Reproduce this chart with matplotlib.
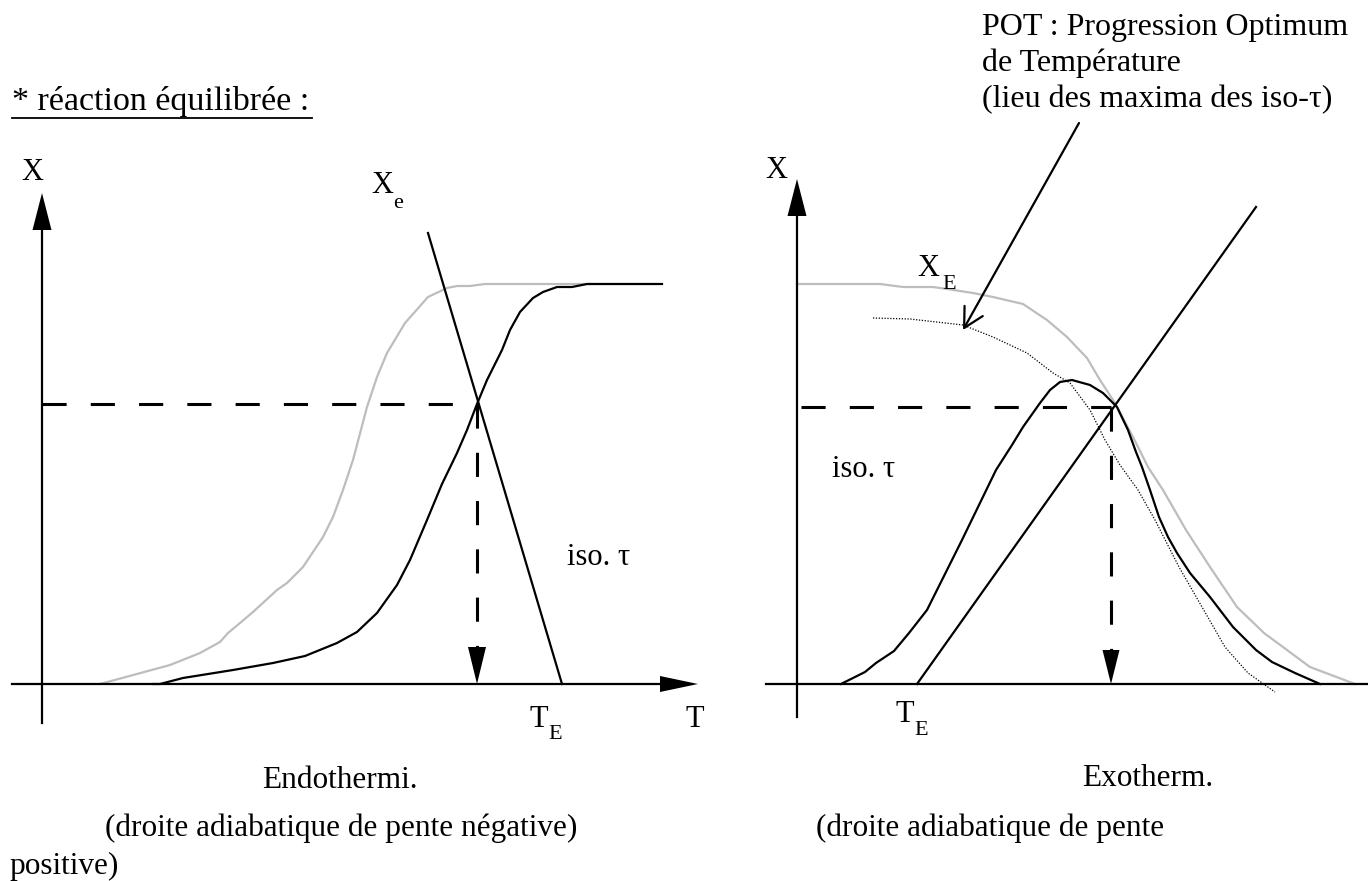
import matplotlib
matplotlib.use("Agg")
import matplotlib.pyplot as plt

plt.rcParams['font.family'] = ['Liberation Serif', 'DejaVu Serif']

# pixel space of the page (x to the right, y downwards)
W, H = 1368, 881

# --- left panel (endothermic) ---
left_eq_x = [100, 170, 200, 220, 228, 240, 253, 277, 287, 303, 323, 333, 343, 353,
             367, 377, 387, 405, 428, 447, 457, 470, 485, 590]
left_eq_y = [684, 665, 653, 642, 633, 623, 612, 590, 583, 567, 537, 517, 490, 460,
             407, 377, 353, 323, 297, 288, 286, 286, 284, 284]

left_iso_x = [153, 160, 183, 233, 273, 305, 337, 357, 377, 397, 410, 427, 442, 457,
              467, 477, 487, 502, 510, 520, 533, 543, 557, 572, 587, 662]
left_iso_y = [684, 684, 678, 670, 663, 656, 643, 632, 613, 585, 560, 520, 484, 453,
              430, 404, 380, 350, 330, 312, 298, 292, 287, 287, 284, 284]

left_adiab_x = [428, 562]
left_adiab_y = [233, 684]
left_op = (477, 404)

# --- right panel (exothermic) ---
right_eq_x = [797, 880, 903, 933, 947, 973, 993, 1023, 1047, 1067, 1087, 1100, 1115,
              1133, 1148, 1163, 1186, 1210, 1237, 1264, 1310, 1355]
right_eq_y = [284, 284, 287, 287, 289, 293, 297, 304, 320, 337, 358, 380, 403,
              437, 467, 490, 530, 567, 607, 633, 667, 684]

right_iso_x = [841, 865, 876, 894, 909, 927, 962, 996, 1012, 1023, 1040, 1050, 1060,
               1072, 1090, 1103, 1117, 1128, 1136, 1142, 1150, 1159, 1168, 1177, 1190,
               1210, 1233, 1256, 1272, 1295, 1320]
right_iso_y = [684, 672, 663, 651, 633, 610, 540, 470, 445, 427, 403, 390, 382,
               380, 385, 393, 407, 430, 452, 467, 490, 517, 537, 553, 573,
               597, 627, 650, 662, 673, 684]

pot_x = [873, 910, 963, 993, 1027, 1053, 1070, 1090, 1105, 1120, 1138, 1155, 1179,
         1202, 1225, 1248, 1275]
pot_y = [318, 319, 325, 337, 353, 373, 383, 410, 440, 465, 490, 520, 567,
         607, 647, 673, 692]

right_adiab_x = [917, 1256]
right_adiab_y = [684, 207]
right_op = (1111, 407)

GREY = '#bdbdbd'
LW = 1.6
DASH = (0, (7.9, 7.9))

fig = plt.figure(figsize=(W / 100, H / 100), dpi=100)
ax = fig.add_axes([0, 0, 1, 1])
ax.set_xlim(0, W)
ax.set_ylim(H, 0)
ax.axis('off')


def tri(tip, base, half, vertical=True):
    if vertical:
        xs = [tip[0], tip[0] - half, tip[0] + half]
        ys = [tip[1], base, base]
    else:
        xs = [tip[0], base, base]
        ys = [tip[1], tip[1] - half, tip[1] + half]
    ax.fill(xs, ys, color='black', lw=0, zorder=5)


def axes_frame(x0, y0, ytop, ybot, xleft, xright, arrow_x):
    ax.plot([x0, x0], [ytop + 36, ybot], color='black', lw=LW, zorder=4)
    tri((x0, ytop), ytop + 37, 9.5)
    if arrow_x:
        ax.plot([xleft, xright - 38], [y0, y0], color='black', lw=LW, zorder=4)
        tri((xright, y0), xright - 38, 8, vertical=False)
    else:
        ax.plot([xleft, xright], [y0, y0], color='black', lw=LW, zorder=4)


# left panel
axes_frame(42, 684, 193, 723, 12, 698, True)
ax.plot(left_eq_x, left_eq_y, color=GREY, lw=LW, zorder=2)
ax.plot(left_iso_x, left_iso_y, color='black', lw=LW, zorder=3)
ax.plot(left_adiab_x, left_adiab_y, color='black', lw=LW, zorder=3)
ax.plot([42, left_op[0]], [left_op[1], left_op[1]], color='black', lw=2.2, ls=DASH)
ax.plot([left_op[0], left_op[0]], [left_op[1], 648], color='black', lw=2.2, ls=DASH)
tri((left_op[0], 684), 647, 9)

# right panel
axes_frame(797, 684, 179, 717, 766, 1368, False)
ax.plot(right_eq_x, right_eq_y, color=GREY, lw=LW, zorder=2)
ax.plot(pot_x, pot_y, color='black', lw=0.9, ls=(0, (1, 1.3)), zorder=2)
ax.plot(right_iso_x, right_iso_y, color='black', lw=LW, zorder=3)
ax.plot(right_adiab_x, right_adiab_y, color='black', lw=LW, zorder=3)
ax.plot([801, right_op[0]], [right_op[1], right_op[1]], color='black', lw=2.2, ls=DASH)
ax.plot([right_op[0], right_op[0]], [right_op[1], 651], color='black', lw=2.2, ls=DASH)
tri((right_op[0], 684), 650, 8.5)

# pointer from the POT caption
ax.annotate('', xy=(963, 330), xytext=(1079, 123),
            arrowprops=dict(arrowstyle='->, head_length=14, head_width=7.5',
                            mutation_scale=1, color='black', lw=LW,
                            shrinkA=0, shrinkB=0))

# labels
FS = 22
SUB = 16
ax.text(21, 180, 'X', fontsize=FS)
ax.text(371, 193, 'X', fontsize=FS)
ax.text(393, 208, 'e', fontsize=SUB)
ax.text(530, 727, 'T', fontsize=FS)
ax.text(548, 739, 'E', fontsize=SUB)
ax.text(686, 727, 'T', fontsize=FS)
ax.text(567, 565, 'iso. \u03c4', fontsize=FS)

ax.text(765, 178, 'X', fontsize=FS)
ax.text(917, 276, 'X', fontsize=FS)
ax.text(942, 289, 'E', fontsize=SUB)
ax.text(896, 722, 'T', fontsize=FS)
ax.text(914, 735, 'E', fontsize=SUB)
ax.text(832, 477, 'iso. \u03c4', fontsize=FS)

ax.text(982, 35, 'POT : Progression Optimum', fontsize=23)
ax.text(982, 71, 'de Température', fontsize=23)
ax.text(982, 107, '(lieu des maxima des iso-\u03c4)', fontsize=23)

# title and captions
ax.text(12, 110, '* réaction équilibrée :', fontsize=24.5)
ax.plot([12, 312], [118, 118], color='black', lw=1.3)

CAP = 22.5
ax.text(262, 788, 'Endothermi.', fontsize=CAP)
ax.text(105, 836, '(droite adiabatique de pente négative)', fontsize=CAP)
ax.text(9, 874, 'positive)', fontsize=CAP)
ax.text(1082, 786, 'Exotherm.', fontsize=CAP)
ax.text(816, 836, '(droite adiabatique de pente', fontsize=CAP)

fig.savefig('out.png', dpi=100)
